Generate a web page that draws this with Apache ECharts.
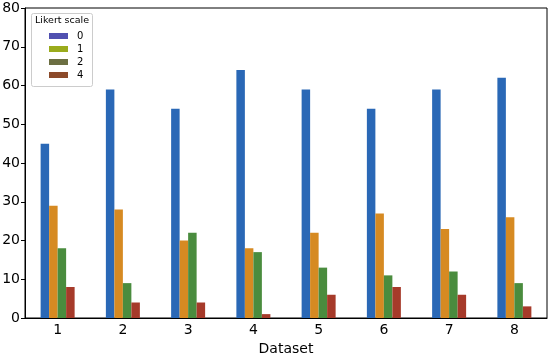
<!DOCTYPE html>
<html><head><meta charset="utf-8">
<script src="https://cdn.jsdelivr.net/npm/echarts@6/dist/echarts.min.js"></script>
<style>html,body{margin:0;padding:0;background:#fff}#c{width:550px;height:356px}</style>
</head><body><div id="c"></div>
<script>
var categories = ['1','2','3','4','5','6','7','8'];
var seriesNames = ['0','1','2','4'];
var likert0 = [45, 59, 54, 64, 59, 54, 59, 62];
var likert1 = [29, 28, 20, 18, 22, 27, 23, 26];
var likert2 = [18, 9, 22, 17, 13, 11, 12, 9];
var likert4 = [8, 4, 4, 1, 6, 8, 6, 3];
var yTicks = [0, 10, 20, 30, 40, 50, 60, 70, 80];

var barColors = ['#2a68b6', '#d68a22', '#4a8c3e', '#a63a2a'];
var legendColors = ['#5050b0', '#9aab1c', '#6c6f42', '#8c4a2a'];
var values = [likert0, likert1, likert2, likert4];
var font = 'DejaVu Sans';

var chart = echarts.init(document.getElementById('c'), null, {renderer: 'canvas'});
chart.setOption({
  animation: false,
  textStyle: {fontFamily: font},
  grid: {left: 25, right: 3, top: 8, bottom: 38, outerBoundsMode: 'none', containLabel: false,
         show: true, borderColor: '#000', borderWidth: 1, backgroundColor: 'transparent'},
  xAxis: {
    type: 'category', data: categories,
    name: 'Dataset', nameLocation: 'middle', nameGap: 22,
    nameTextStyle: {fontSize: 14, color: '#000', fontFamily: font},
    axisLine: {lineStyle: {color: '#000'}},
    axisTick: {alignWithLabel: true, length: 4, lineStyle: {color: '#000'}},
    axisLabel: {fontSize: 14, color: '#000', margin: 5, fontFamily: font}
  },
  yAxis: {
    type: 'value', min: yTicks[0], max: yTicks[yTicks.length - 1], interval: 10,
    axisLine: {show: true, lineStyle: {color: '#000'}},
    axisTick: {show: true, length: 4, lineStyle: {color: '#000'}},
    axisLabel: {fontSize: 14, color: '#000', margin: 5, fontFamily: font},
    splitLine: {show: false}
  },
  legend: {
    orient: 'vertical', left: 44, top: 26, itemWidth: 19, itemHeight: 6, itemGap: 3,
    textStyle: {fontSize: 10, color: '#000', fontFamily: font, padding: [0, 0, 0, 4]},
    data: seriesNames.map(function (n, i) { return {name: n, icon: 'rect', itemStyle: {color: legendColors[i], borderWidth: 0}}; })
  },
  graphic: [
    {type: 'rect', left: 31, top: 13, z: 0, shape: {width: 61, height: 73, r: 2}, style: {fill: 'rgba(255,255,255,0.85)', stroke: '#ccc', lineWidth: 1}},
    {type: 'text', left: 35, top: 16, z: 1, style: {text: 'Likert scale', font: '9.5px "DejaVu Sans"', fill: '#000'}}
  ],
  series: seriesNames.map(function (n, i) {
    return {name: n, type: 'bar', data: values[i], barWidth: 8.5, barGap: 0,
            itemStyle: {color: barColors[i], borderWidth: 0, borderColor: barColors[i]}};
  })
});
</script></body></html>
